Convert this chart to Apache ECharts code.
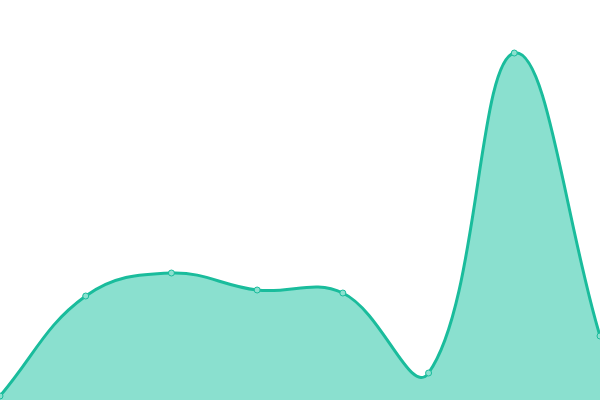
<!DOCTYPE html>
<html>
<head>
<meta charset="utf-8">
<script src="https://cdn.jsdelivr.net/npm/echarts@6/dist/echarts.min.js"></script>
<style>
  html, body { margin: 0; padding: 0; background: #fff; }
  #chart { width: 600px; height: 400px; }
</style>
</head>
<body>
<div id="chart"></div>
<script>
// values (hidden y axis, 0..400)
const categories = ['1', '2', '3', '4', '5', '6', '7', '8'];
const values = [4, 104, 127, 110, 107, 27, 347, 64];

const LINE = '#1abc9c';
const FILL = '#8ae0cf';
const TENSION = 0.4;

// cardinal-style spline (overshoots, unlike echarts' clamped smoothing)
function splinePath(pts) {
  let d = 'M' + pts[0][0] + ' ' + pts[0][1];
  const cps = pts.map((p, i) => {
    const prev = pts[i - 1] || p;
    const next = pts[i + 1] || p;
    const d01 = Math.hypot(p[0] - prev[0], p[1] - prev[1]);
    const d12 = Math.hypot(next[0] - p[0], next[1] - p[1]);
    const sum = d01 + d12 || 1;
    const fa = TENSION * d01 / sum;
    const fb = TENSION * d12 / sum;
    return {
      prev: [p[0] - fa * (next[0] - prev[0]), p[1] - fa * (next[1] - prev[1])],
      next: [p[0] + fb * (next[0] - prev[0]), p[1] + fb * (next[1] - prev[1])]
    };
  });
  for (let i = 1; i < pts.length; i++) {
    const a = cps[i - 1].next, b = cps[i].prev, p = pts[i];
    d += ' C' + a[0] + ' ' + a[1] + ' ' + b[0] + ' ' + b[1] + ' ' + p[0] + ' ' + p[1];
  }
  return d;
}

function renderCurve(params, api) {
  const pts = values.map((v, i) => api.coord([i, v]));
  const base = api.coord([0, 0])[1];
  const line = splinePath(pts);
  const last = pts[pts.length - 1];
  const area = line + ' L' + last[0] + ' ' + base + ' L' + pts[0][0] + ' ' + base + ' Z';
  return {
    type: 'group',
    children: [
      { type: 'path', shape: { pathData: area }, style: { fill: FILL, stroke: null } },
      { type: 'path', shape: { pathData: line }, style: { fill: null, stroke: LINE, lineWidth: 3 } }
    ]
  };
}

const chart = echarts.init(document.getElementById('chart'));
chart.setOption({
  animation: false,
  grid: { left: 0, right: 0, top: 0, bottom: 0 },
  xAxis: {
    type: 'category',
    data: categories,
    boundaryGap: false,
    show: false
  },
  yAxis: {
    type: 'value',
    min: 0,
    max: 400,
    show: false
  },
  series: [
    {
      type: 'custom',
      data: [[0, values[0]]],
      renderItem: renderCurve,
      silent: true,
      z: 1
    },
    {
      type: 'line',
      data: values,
      symbol: 'circle',
      symbolSize: 6,
      lineStyle: { opacity: 0 },
      itemStyle: { color: '#8be0cf', borderColor: LINE, borderWidth: 1 },
      z: 2
    }
  ]
});
</script>
</body>
</html>
